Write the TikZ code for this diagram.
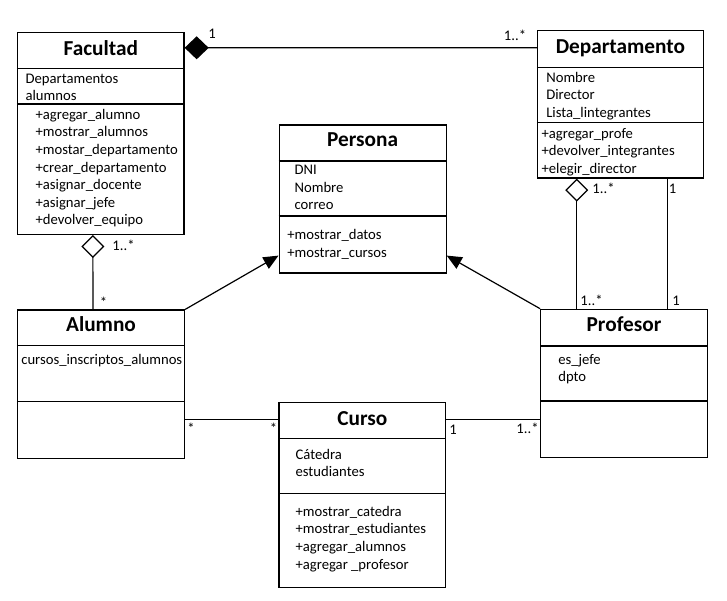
\documentclass[tikz,border=0pt]{standalone}
\usepackage{fontspec}
\setmainfont{Carlito}
\usetikzlibrary{arrows.meta}

\tikzset{
  box/.style={draw, inner sep=0pt},
  ttl/.style={font=\bfseries\fontsize{21.3}{25}\selectfont, anchor=base, inner sep=0pt},
  txt/.style={font=\fontsize{14.67}{17.6}\selectfont, anchor=base west, inner sep=0pt},
  mult/.style={font=\fontsize{14.67}{17.6}\selectfont, inner sep=0pt},
  comp/.style={{Diamond[length=24pt,width=23pt]}-},
  aggr/.style={{Diamond[open,length=23pt,width=23pt]}-},
  inher/.style={-{Triangle[length=15pt,width=13pt]}},
}

\begin{document}
\begin{tikzpicture}[x=1pt, y=-1pt, line width=1.2pt]
\useasboundingbox (0,0) rectangle (727,601);

% clases
\node[box, minimum width=166.5pt, minimum height=202pt] (fac) at (100.8,133.4) {};
\node[box, minimum width=166pt, minimum height=147.3pt] (dep) at (620.4,104.4) {};
\node[box, minimum width=167pt, minimum height=148pt] (per) at (362.6,199) {};
\node[box, minimum width=167pt, minimum height=148.5pt] (alu) at (101,384.3) {};
\node[box, minimum width=166.6pt, minimum height=148pt] (pro) at (624,383.3) {};
\node[box, minimum width=166.8pt, minimum height=185pt] (cur) at (362.4,494.8) {};

\foreach \b/\y in {fac/68.3, fac/104, dep/67.7, dep/122.7, per/161, per/216,
                   alu/345.7, alu/401.7, pro/346, pro/401, cur/438.3, cur/493.7}
  \draw (\b.west |- 0,\y) -- (\b.east |- 0,\y);

% nombres
\node[ttl] (facT) at ([yshift=-23.4pt]fac.north) {Facultad};
\node[ttl] (depT) at ([yshift=-23.6pt]dep.north) {Departamento};
\node[ttl] (perT) at ([yshift=-22.3pt]per.north) {Persona};
\node[ttl] (aluT) at ([yshift=-22.3pt]alu.north) {Alumno};
\node[ttl] (proT) at ([yshift=-23pt]pro.north) {Profesor};
\node[ttl] (curT) at ([yshift=-23.4pt]cur.north) {Curso};

% atributos y metodos
\foreach \t [count=\i] in {Departamentos, alumnos}
  \node[txt] (fa\i) at (25, 65.6+17.7*\i) {\t};
\foreach \t [count=\i] in {+agregar\_alumno, +mostrar\_alumnos, +mostar\_departamento,
    +crear\_departamento, +asignar\_docente, +asignar\_jefe, +devolver\_equipo}
  \node[txt] (fm\i) at (35, 101.7+17.6*\i) {\t};

\foreach \t [count=\i] in {Nombre, Director, Lista\_lintegrantes}
  \node[txt] (da\i) at (545.7, 64.6+17.7*\i) {\t};
\foreach \t [count=\i] in {+agregar\_profe, +devolver\_integrantes, +elegir\_director}
  \node[txt] (dm\i) at (541, 120.7+17.6*\i) {\t};

\foreach \t [count=\i] in {DNI, Nombre, correo}
  \node[txt] (pa\i) at (294, 157.5+17.5*\i) {\t};
\foreach \t [count=\i] in {+mostrar\_datos, +mostrar\_cursos}
  \node[txt] (pm\i) at (286.7, 222.6+17.4*\i) {\t};

\node[txt] (aa1) at (20.7,364) {cursos\_inscriptos\_alumnos};

\foreach \t [count=\i] in {es\_jefe, dpto}
  \node[txt] (ra\i) at (557.7, 346.8+17.5*\i) {\t};

\foreach \t [count=\i] in {C\'atedra, estudiantes}
  \node[txt] (ca\i) at (295, 441.7+17.6*\i) {\t};
\foreach \t [count=\i] in {+mostrar\_catedra, +mostrar\_estudiantes, +agregar\_alumnos,
    +agregar \_profesor}
  \node[txt] (cm\i) at (295, 498.1+17.9*\i) {\t};

% relaciones
\draw[comp] ([yshift=-16pt]fac.north east) -- ([yshift=-17.6pt]dep.north west);
\draw[aggr] ([xshift=-8pt]fac.south) -- ([xshift=-8pt]alu.north);
\coordinate (dagg) at ([xshift=-43.7pt]dep.south);
\draw[aggr] (dagg) -- (dagg |- pro.north);
\coordinate (djef) at ([xshift=47pt]dep.south);
\draw (djef) -- (djef |- pro.north);
\draw[inher] (alu.north east) -- ([yshift=18pt]per.south west);
\draw[inher] (pro.north west) -- ([yshift=18pt]per.south east);
\coordinate (ac) at ([yshift=-18pt]cur.north west);
\draw (alu.east |- ac) -- (ac);
\coordinate (cp) at ([yshift=-18pt]cur.north east);
\draw (cp) -- (cp -| pro.west);

% multiplicidades
\node[mult] (m1) at (212,33.5) {1};
\node[mult] (m2) at (515,35.5) {1..*};
\node[mult] (m3) at (123.5,245.5) {1..*};
\node[mult] (m4) at (103.5,302) {*};
\node[mult] (m5) at (603.5,188.5) {1..*};
\node[mult] (m6) at (672.5,188.5) {1};
\node[mult] (m7) at (591.5,300) {1..*};
\node[mult] (m8) at (676,300.5) {1};
\node[mult] (m9) at (191,428.5) {*};
\node[mult] (m10) at (273.5,428.5) {*};
\node[mult] (m11) at (453,430) {1};
\node[mult] (m12) at (527.5,428.5) {1..*};
\end{tikzpicture}
\end{document}
